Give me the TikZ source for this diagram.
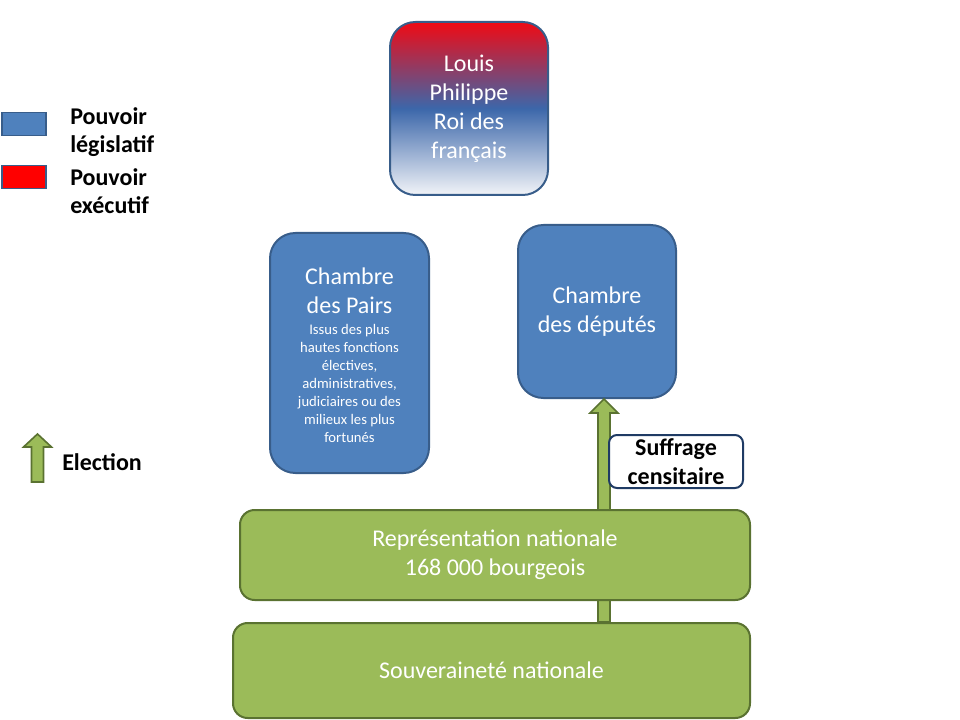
\documentclass[tikz,border=0pt]{standalone}
\usepackage{fontspec}
\setmainfont{Carlito}
\usetikzlibrary{calc}
\definecolor{boxblue}{HTML}{4F81BD}
\definecolor{blueline}{HTML}{385D8A}
\definecolor{boxgreen}{HTML}{9BBB59}
\definecolor{greenline}{HTML}{5A7231}
\definecolor{lpred}{HTML}{F00A14}
\definecolor{lpblue}{HTML}{3C67AA}
\definecolor{lpwhite}{HTML}{F2F4F8}
\definecolor{navyline}{HTML}{1F3B64}
\newcommand{\bigsz}{\fontsize{18}{21.75}\selectfont}
\newcommand{\smallsz}{\fontsize{11}{13.5}\selectfont}
\tikzset{
  bluebox/.style={draw=blueline, line width=1.5pt, fill=boxblue, rounded corners=19pt,
    text=white, align=center, inner sep=0pt},
  greenbox/.style={draw=greenline, line width=1.5pt, fill=boxgreen, rounded corners=11pt,
    text=white, align=center, inner sep=0pt, font=\bigsz},
  bigtxt/.style={font=\bigsz},
  wtxt/.style={text=white, align=center, inner sep=0pt},
  legtxt/.style={font=\bfseries\fontsize{18}{21}\selectfont, align=left, anchor=west, inner sep=0pt},
  greenarrow/.style={draw=greenline, line width=1.2pt, fill=boxgreen, line join=miter},
  legbox/.style={draw=blueline, line width=1.2pt, inner sep=0pt, minimum width=33pt, minimum height=17pt}
}
\begin{document}
\begin{tikzpicture}[x=0.75pt,y=-0.75pt]
\useasboundingbox (0,0) rectangle (960,720);

% Louis Philippe
\node[bluebox, bigtxt, top color=lpred, bottom color=lpwhite, middle color=lpblue,
  minimum width=118.5pt, minimum height=129.75pt] (roi) at (469,108.5)
  {Louis\\Philippe\\Roi des\\français};

% Chambre des Pairs
\node[bluebox, minimum width=119.25pt, minimum height=180pt] (pairs) at (349.5,353) {};
\node[wtxt, font=\bigsz] (pairstitle) at ($(pairs.north)+(0,59)$) {Chambre\\des Pairs};
\node[wtxt, font=\smallsz] (pairsdesc) at ($(pairs.north)+(0,151)$)
  {Issus des plus\\hautes fonctions\\électives,\\administratives,\\judiciaires ou des\\milieux les plus\\fortunés};

% Chambre des deputes
\node[bluebox, bigtxt, minimum width=118.5pt, minimum height=129.75pt] (deputes) at (597,311.5)
  {Chambre\\des députés};

% Souverainete nationale
\node[greenbox, minimum width=387.75pt, minimum height=71.25pt] (souv) at (491.5,670.5)
  {Souveraineté nationale};
% Election arrow
\coordinate (atop) at ($(deputes.south)+(7,0)$);
\coordinate (abot) at (atop |- souv.north);
\draw[greenarrow] ($(abot)+(-6,0)$) -- ($(atop)+(-6,14)$) -- ($(atop)+(-14,14)$) -- (atop)
  -- ($(atop)+(14,14)$) -- ($(atop)+(6,14)$) -- ($(abot)+(6,0)$) -- cycle;

% Representation nationale
\node[greenbox, minimum width=382.5pt, minimum height=67.5pt] (repr) at (495,555)
  {Représentation nationale\\168 000 bourgeois};

% Suffrage censitaire
\node[draw=navyline, line width=1.5pt, fill=white, rounded corners=6pt, inner sep=0pt,
  minimum width=100.5pt, minimum height=39.75pt, align=center,
  font=\bfseries\bigsz] (suff) at (676,461.5)
  {Suffrage\\censitaire};

% Legend
\node[legbox, fill=boxblue] (legleg) at (24,124) {};
\node[legbox, fill=red] (legexe) at (24,177) {};
\node[legtxt] (txtleg) at (70,132) {Pouvoir\\législatif};
\node[legtxt] (txtexe) at (70,191.5) {Pouvoir\\exécutif};

\coordinate (ltop) at (37.5,434);
\coordinate (lbot) at (37.5,482);
\draw[greenarrow] ($(lbot)+(-6,0)$) -- ($(ltop)+(-6,13)$) -- ($(ltop)+(-14,13)$) -- (ltop)
  -- ($(ltop)+(14,13)$) -- ($(ltop)+(6,13)$) -- ($(lbot)+(6,0)$) -- cycle;
\node[legtxt] (txtel) at (62,462) {Election};
\end{tikzpicture}
\end{document}
